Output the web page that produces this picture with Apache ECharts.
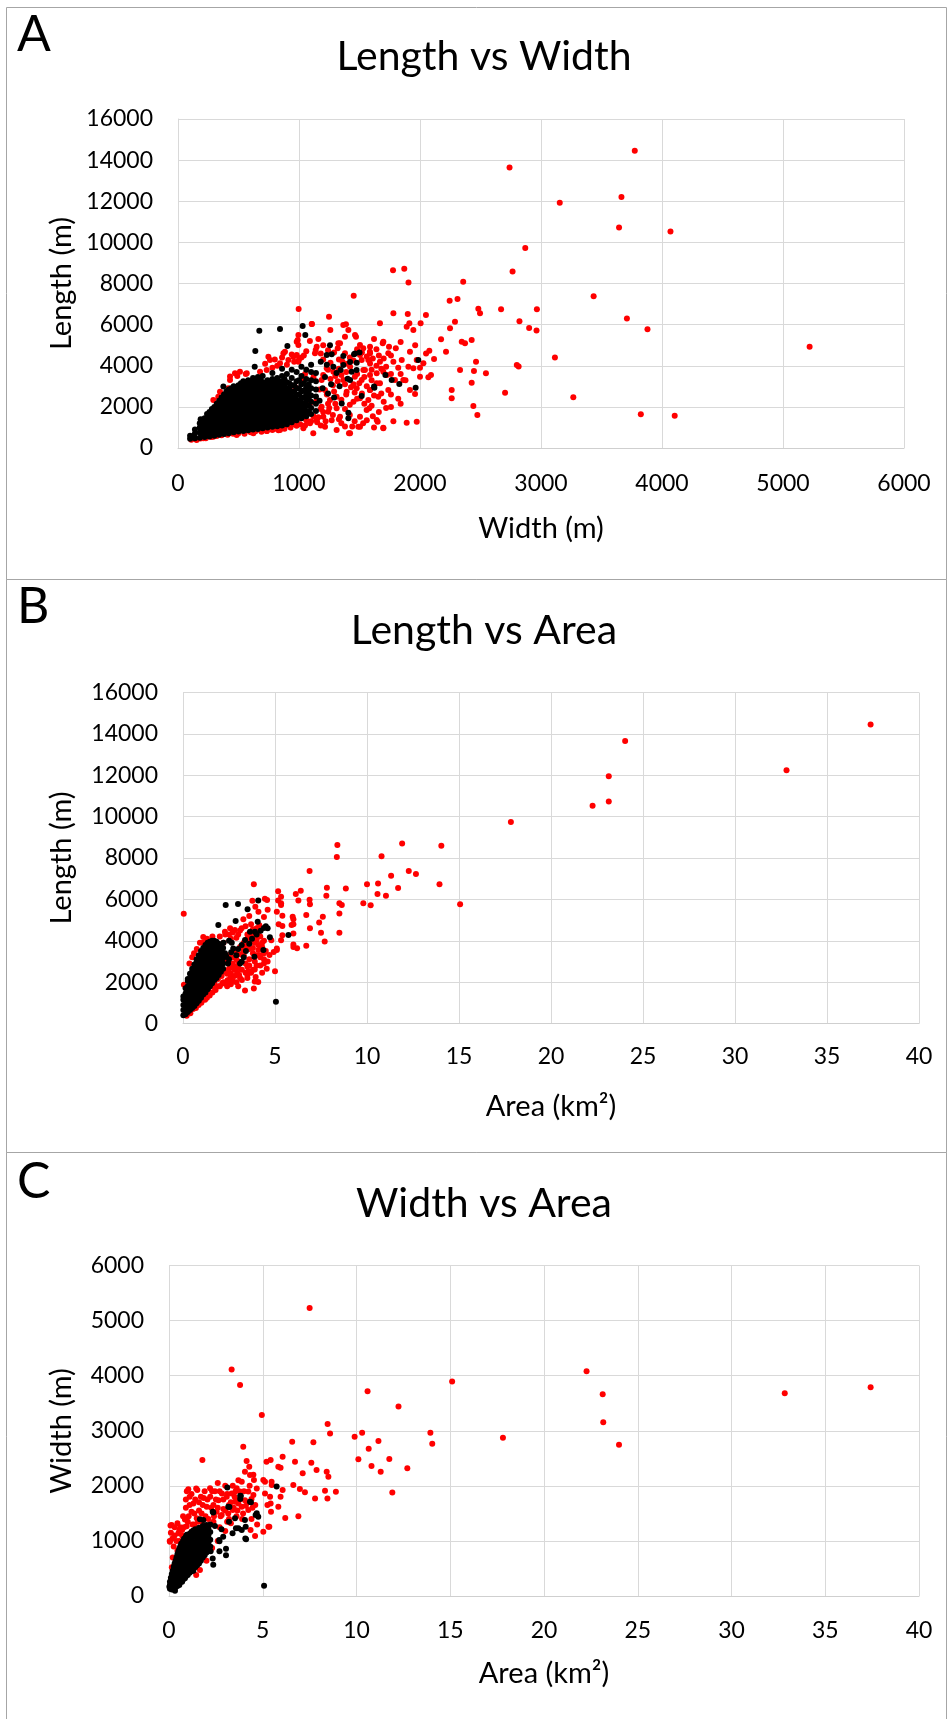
<!DOCTYPE html>
<html>
<head>
<meta charset="utf-8">
<title>Length, Width and Area</title>
<script src="https://cdn.jsdelivr.net/npm/echarts@6/dist/echarts.min.js"></script>
<style>
html, body { margin: 0; padding: 0; background: #fff; }
#main { width: 948px; height: 1719px; }
</style>
</head>
<body>
<div id="main"></div>
<script>
// Valeurs (largeur m, longueur m, aire km2)

// Panneau A : [largeur, longueur]
const lengthWidthRed = [
  [3775,14460],[2740,13640],[3155,11930],[3665,12210],[3645,10720],[4070,10530],[2870,9730],[2765,8580],
  [1777,8650],[1870,8720],[1905,8050],[2357,8080],[3435,7380],[1452,7410],[2245,7160],[2310,7250],
  [5220,4925],[3825,1640],[4105,1565],[3267,2465],[3115,4405],[3710,6300],[3880,5780],[2966,6750],
  [2670,6750],[2822,6160],[2902,5835],[2963,5710],[2815,3965],[2800,4040],[2703,2690],
  [997,6760],[1248,6385],[1107,6030],[1388,6015],[1408,5740],[1259,5740],[981,5170],[995,5495],
  [1138,4765],[1325,5090],[1471,5415],[1380,4605],[1669,6065],[1780,6550],[1899,6515],[1912,6065],
  [1945,5740],[1890,5900],[2005,6065],[2049,6470],[1697,5170],[1744,4930],[1738,4605],[1692,5090],
  [1586,4685],[1531,4845],[1504,4525],[1573,4280],[1545,3795],[1462,3470],[1498,3145],[1586,2820],
  [1655,2495],[1581,1930],[1504,1035],[1413,712],[1118,712],[1201,1525],[1650,1280],[1697,990],
  [1780,4200],[1849,4280],[1904,3955],[1945,3875],[1973,4280],[2028,4120],[2116,4330],[2077,4735],
  [1917,4685],[1793,3305],[1738,2820],[1669,3145],[1862,3305],[2000,3470],[2069,3435],[2091,3550],
  [1917,2820],[1959,2625],[1890,1230],[1973,1280],[2174,5285],[2215,4685],[2248,5820],[2289,6145],
  [2372,5090],[2345,5170],[2427,5255],[2463,4200],[2446,3745],[2331,3795],[2262,2820],[2262,2415],
  [2427,3175],[2441,2040],[2474,1605],[2482,6775],[2496,6550],[2545,3630],
  [110,400],[150,420],[185,460],[230,480],[275,540],[320,580],[360,620],[410,650],[455,690],[500,720],
  [550,690],[600,760],[640,820],[690,790],[735,830],[780,880],[830,860],[880,940],[930,1000],[980,1080],
  [1036,956],[1091,1200],[1146,1362],[1215,1037],[1311,875],[1422,713],[898,1118],[843,875],[733,827],
  [623,713],[485,632],[375,713],[292,551],[209,470],[154,389],[127,551],[264,875],[347,1362],[319,1848],
  [333,2496],[292,2334],[347,2740],[416,2902],[430,3307],[471,3631],[512,3712],[568,3631],[678,3712],
  [733,3793],[760,4279],[843,4117],[912,4279],[953,4441],[884,4685],[747,4441],[871,4604],[989,5252],
  [981,4523],[995,4198],[430,3480],[490,3500],[560,3600],[1036,3388],[1063,2821],[967,2983],[829,3145],
  [1187,3307],[1215,2821],[1256,2334],[1311,2496],[1187,2010],[1242,1767],[1311,1929],[1339,1524],
  [1146,2334],[1091,2172],[1394,2740],[1366,3307],[1284,3712],[1229,3874],[1422,3955],[1532,3793],
  [1642,3631],[1725,3550],[1504,2415],[1559,1848],[1504,1524],[1490,1037],[1642,1362],[1697,956],
  [1573,2334],[1642,3145],[1477,2902],[1587,2820],[1587,3550],[1518,3305],[1697,3710],[1669,4200],
  [1587,4115],[1518,4280],[1587,4605],[1366,5980],[1587,4930],[1504,5010],[1463,5495],[1380,5415],
  [1339,5090],[1132,4605],[1146,4930],[995,5010],[1105,6030],[1200,4300],[1260,4150],[1330,4300],
  [1420,4400],[1300,3500],[1350,3550],[1450,3100],[1390,2600],[1450,2250],[1300,2150],[1250,1950],
  [1380,1900],[1200,1750],[1160,1500],[1270,1350],[1350,1200],[1420,1600],[1100,1300],[1180,1100],
  [1050,1100],[960,1250],[1010,1150],[1230,2600],[1170,2850],[1280,3050],[1120,3450],[1050,3600],
  [1020,4400],[1060,4700],[1090,5200],[1160,5300],[1200,5000],[1180,4600],[1240,4750],[1290,4650],
  [1320,4850],[1360,4200],[1400,4100],[1450,4250],[1480,4800],[1520,4650],[1560,4450],[1610,4350],
  [1640,4800],[1620,5300],[1660,4500],[1700,4350],[1720,3950],[1680,3850],[1640,4000],[1600,3300],
  [1560,3000],[1520,2650],[1480,2400],[1540,2150],[1600,2050],[1620,2550],[1680,2650],[1700,2250],
  [1720,1950],[1660,1750],[1610,1550],[1560,1350],[1530,1200],[1460,1300],[1440,1050],[1380,1050],
  [1330,1400],[1280,1600],[1220,1300],[1180,1900],[1240,2150],[1290,2750],[1350,2350],[1420,2100],
  [1460,2700],[1430,2950],[1380,3100],[1320,3250],[1260,3350],[1200,3550],[1240,3800],[1330,3850],
  [1390,3700],[1480,3600],[1540,3450],[1600,3800],[1760,3600],[1820,3900],[1760,4500],[1800,4850],
  [1840,5150],[1960,5000],[2050,4600],[2000,3900],[1840,3600],[1880,3300],[1760,2600],[1820,2400],
  [1760,2000],[1840,2150],[1620,1000],[1780,1300],[720,4100],[800,4300],[860,4400],[940,4550],
  [960,4200],[1000,4300],[1040,4500],[900,4050],[820,4000],[780,3900],[550,780],[650,870],[720,920],
  [800,940],[860,1000],[950,1150],[1060,1350],[1120,1550],[1150,1250]
];
const lengthWidthBlack = [
  [672,5705],[843,5785],[1030,5935],[1052,5495],[904,4960],[639,4715],[634,3955],[375,2985],[187,1395],
  [1256,4995],[1229,4520],[1366,4475],[1463,4600],[1477,4150],[1435,3710],[1344,3795],[1422,3305],
  [1518,2530],[1353,2170],[1408,1720],[1408,1445],[1284,3955],[1620,2985],[1986,4280],[1964,2930],
  [1714,3550],[1766,3305],[1829,3110],[1623,2935],[1270,4555],[1366,4035],[1402,3370],[1476,3795],
  [1170,2300],[1195,2900],[1215,3450],[1240,2650],[1265,3100],[1290,2450],[1310,3650],[1335,3000],
  [1180,4200],[1230,4050],[1500,4640],[1455,4555],[1422,4185]
];
// coeur dense du nuage noir : [largeur, [longueurs...]]
const lengthWidthBlackCore = [
  [100,[450,600]],
  [140,[470,700,900]],
  [180,[500,750,1000,1200]],
  [200,[620,870,1120,1370]],
  [220,[540,780,1030,1280,1450]],
  [240,[670,920,1170,1420,1650]],
  [260,[560,820,1070,1320,1570,1750]],
  [280,[720,970,1220,1470,1720,1900]],
  [300,[600,850,1100,1350,1600,1850,2000]],
  [320,[730,980,1230,1480,1730,1980,2150]],
  [340,[640,890,1140,1390,1640,1890,2140,2300]],
  [360,[770,1020,1270,1520,1770,2020,2270,2450]],
  [380,[680,930,1180,1430,1680,1930,2180,2430,2600]],
  [400,[810,1060,1310,1560,1810,2060,2310,2560,2750]],
  [420,[720,960,1210,1460,1710,1960,2210,2460,2710,2850]],
  [440,[850,1100,1350,1600,1850,2100,2350,2600,2900]],
  [460,[760,1000,1250,1500,1750,2000,2250,2500,2750,3000]],
  [480,[880,1130,1380,1630,1880,2130,2380,2630,2880]],
  [500,[800,1040,1290,1540,1790,2040,2290,2540,2790,3050]],
  [520,[920,1170,1420,1670,1920,2170,2420,2670,2920,3150]],
  [540,[830,1080,1330,1580,1830,2080,2330,2580,2830,3080,3250]],
  [560,[960,1210,1460,1710,1960,2210,2460,2710,2960,3200]],
  [580,[860,1110,1360,1610,1860,2110,2360,2610,2860,3110,3300]],
  [600,[1000,1250,1500,1750,2000,2250,2500,2750,3000,3250]],
  [620,[900,1150,1400,1650,1900,2150,2400,2650,2900,3150,3400]],
  [640,[1030,1280,1530,1780,2030,2280,2530,2780,3030,3300]],
  [660,[930,1180,1430,1680,1930,2180,2430,2680,2930,3180,3450]],
  [680,[1060,1310,1560,1810,2060,2310,2560,2810,3060,3350]],
  [700,[960,1210,1460,1710,1960,2210,2460,2710,2960,3210,3500]],
  [720,[1100,1350,1600,1850,2100,2350,2600,2850,3100]],
  [740,[1000,1250,1500,1750,2000,2250,2500,2750,3000,3300]],
  [760,[1130,1380,1630,1880,2130,2380,2630,2880,3150]],
  [780,[1030,1280,1530,1780,2030,2280,2530,2780,3030,3350,3650]],
  [800,[1160,1410,1660,1910,2160,2410,2660,2910,3200]],
  [820,[1060,1310,1560,1810,2060,2310,2560,2810,3060,3400]],
  [840,[1200,1450,1700,1950,2200,2450,2700,2950,3250]],
  [860,[1100,1350,1600,1850,2100,2350,2600,2850,3150,3500,3850]],
  [880,[1250,1500,1750,2000,2250,2500,2750,3000,3350]],
  [900,[1150,1400,1650,1900,2150,2400,2650,2900,3200,3600]],
  [920,[1350,1600,1850,2100,2350,2600,2850,3150]],
  [940,[1250,1500,1750,2000,2250,2500,2750,3050,3400,3800]],
  [960,[1450,1700,1950,2200,2450,2750,3050]],
  [980,[1350,1600,1850,2100,2350,2600,2900,3250,3700]],
  [1000,[1550,1800,2050,2300,2600,2900,3300]],
  [1020,[1450,1700,1950,2200,2450,2750,3100,3500,3950]],
  [1040,[1650,1900,2150,2450,2800,3150]],
  [1060,[1550,1800,2050,2300,2600,2950,3350,3800]],
  [1080,[1750,2050,2400,2750,3100]],
  [1100,[1650,1950,2250,2550,2900,3300,3700,4050]],
  [1140,[1800,2150,2500,2850,3250,3650]]
];

// Panneau B : [aire, longueur]
const lengthAreaRed = [
  [37.37,14455],[32.8,12240],[24.03,13650],[23.14,11950],[23.14,10735],[22.26,10520],[17.82,9735],[14.04,8590],
  [11.91,8695],[10.79,8085],[8.39,8625],[8.36,8050],[6.88,7370],[12.27,7370],[12.66,7230],[11.31,7140],
  [13.94,6730],[10.0,6730],[10.6,6765],[11.69,6550],[11.03,6175],[10.57,6260],[15.06,5760],[9.8,5815],
  [10.2,5710],[8.85,6530],[7.82,6565],[7.79,6175],[8.5,5815],[8.63,5725],[8.5,5315],[8.5,4385],[7.7,3960],
  [0.04,5300],[3.85,6730],[5.17,6390],[5.17,5940],[5.33,5725],[6.13,6260],[6.4,6420],[6.27,5940],[6.88,5980],
  [6.9,5760],[5.4,5210],[5.96,5155],[6.7,5245],[7.6,5155],[7.4,4885],[6.9,4600],[6.0,4795],[5.4,4710],
  [5.4,4260],[6.0,4350],[6.0,3815],[6.2,3635],[6.7,3760],[7.5,4385],[4.45,6030],[4.6,5495],[5.2,4795],
  [4.93,3455],[5.0,2530],[4.09,2010],[3.85,1690],[3.37,1600],
  [3.77,5935],[4.57,5970],[3.93,5645],[4.1,5405],[5.1,5405],[5.33,6130],[5.33,5810],[6.0,5035],[5.9,4760],
  [4.8,4030],[5.1,3550],[4.7,3310],[4.2,2805],[3.9,2610],[4.3,2450],[3.9,2030],[5.33,4030],[6.0,3700],
  [5.1,3620],[3.55,2530],[2.28,4440],[2.56,4600],[2.82,4520],[3.19,4600],[3.28,5035],[0.92,3905],[1.1,4185],
  [0.05,1870],[0.35,2900],[0.5,3200],[0.6,3400],[0.75,3600],
  [1.0,2400],[1.2,2800],[1.5,3200],[1.8,3000],[2.1,2600],[2.4,2400],[2.7,2700],[3.0,3000],[3.3,3300],
  [3.6,3600],[3.9,3900],[4.2,4200],[2.2,3900],[2.6,4100],[3.0,4300],[3.4,4700],[3.7,4800],[4.0,4600],
  [4.3,3700],[4.0,3300],[3.6,3100],[3.2,2600],[2.8,2300],[2.5,2100],[2.2,2000],[1.9,1800],[1.6,1500],
  [1.3,1250],[1.0,1000],[0.7,750],[0.4,500],[0.2,380],[0.65,810],[1.05,1130],[1.77,1615],[2.14,1935],
  [2.42,2095],[2.6,2250],[2.95,2450],[3.1,2200],[3.5,2200],[3.7,2450],[4.0,2800],[4.4,3100],[4.5,3500],
  [4.2,3300],[3.8,3400],[3.5,2750],[2.9,2750],[3.3,3700],[4.1,3800],[4.4,4000],[2.4,2550],[1.45,1350],
  [0.85,900],[1.2,1150],[1.7,1750],[2.0,1800],[2.3,1950],[2.7,2050],[3.05,2350],[3.4,2450],[3.95,2250],
  [4.6,3000],[4.55,2650],[2.5,4300],[2.9,4150],[3.5,4300],[3.8,4550],[4.15,4750],[4.4,5150],[3.6,5200],
  [1.3,1600],[1.5,1800],[1.7,2000],[1.9,2150],[2.1,2300],[2.3,2500],[2.5,2650],[2.7,2900],[2.9,3100],
  [3.1,3350],[3.3,3500],[3.5,3750],[3.7,3950],[3.9,4150],[4.1,4400],[1.9,2550],[2.1,2850],[2.3,3050],
  [2.5,3300],[2.7,3200],[2.9,3500],[3.1,3700],[3.3,3900],[3.5,4100],[3.7,4300],[2.0,4200],[2.3,4300],
  [2.7,4400],[3.1,4500],[1.6,4200],[1.3,4100],[1.1,3900],[2.6,2400],[2.8,2600],[3.0,2700],[3.4,2900],
  [3.6,2800],[3.9,3000],[4.2,3200],[4.4,3400],[4.1,3550],[3.8,3650],[4.3,3900],[4.0,4050],[1.0,1200],
  [1.2,1400],[1.4,1550],[0.8,1000],[0.55,700],[2.6,1900],[2.9,2000],[3.2,2100],[3.5,2350],[3.8,2600],
  [4.4,2900],[3.0,1800],[2.4,1800]
];
const lengthAreaBlack = [
  [2.32,5730],[2.99,5775],[4.09,5940],[3.51,5520],[1.92,4760],[2.86,4955],[4.6,4600],[4.72,4170],[5.73,4280],
  [4.37,3550],[3.88,3230],[3.19,2985],[5.05,1050],[1.74,3860],[4.4,4620],[4.06,4920],
  [2.28,3390],[2.73,3630],[3.19,3795],[3.37,4035],[3.64,4440],[3.91,4440],[3.1,2905],[2.5,3100],[2.62,3450],
  [2.9,3300],[3.0,3600],[3.42,3500],[3.6,3850],[3.75,4100],[4.0,4300],[4.22,4480],[4.5,4700],[3.3,3200],
  [2.45,2900],[2.1,3600],[2.35,3250],[2.2,3900],[2.5,4000],[2.65,3900]
];
// coeur dense du nuage noir : [aire, [longueurs...]]
const lengthAreaBlackCore = [
  [0.02,[400,650,900,1150,1300]],
  [0.14,[450,700,950,1200,1450,1700]],
  [0.26,[550,800,1050,1300,1550,1800,2050,2150]],
  [0.38,[650,900,1150,1400,1650,1900,2150,2400]],
  [0.5,[750,1000,1250,1500,1750,2000,2250,2500,2650]],
  [0.62,[850,1100,1350,1600,1850,2100,2350,2600,2850]],
  [0.74,[980,1230,1480,1730,1980,2230,2480,2730,2980,3100]],
  [0.86,[1100,1350,1600,1850,2100,2350,2600,2850,3100,3300]],
  [0.98,[1250,1500,1750,2000,2250,2500,2750,3000,3250,3500]],
  [1.1,[1400,1650,1900,2150,2400,2650,2900,3150,3400,3650]],
  [1.22,[1500,1750,2000,2250,2500,2750,3000,3250,3500,3800]],
  [1.34,[1650,1900,2150,2400,2650,2900,3150,3400,3650,3900]],
  [1.46,[1800,2050,2300,2550,2800,3050,3300,3550,3800,3950]],
  [1.58,[1950,2200,2450,2700,2950,3200,3450,3700,4000]],
  [1.7,[2100,2350,2600,2850,3100,3350,3600,3850,4000]],
  [1.82,[2200,2450,2700,2950,3200,3450,3700,3950]],
  [1.94,[2350,2600,2850,3100,3350,3600,3850]],
  [2.06,[2500,2750,3000,3250,3500,3750]],
  [2.18,[2650,2900,3150,3400,3650]]
];

// Panneau C : [aire, largeur]
const widthAreaRed = [
  [7.5,5230],[3.34,4110],[3.79,3830],[4.95,3285],[10.59,3715],[12.24,3440],[15.1,3893],[22.27,4078],
  [23.13,3663],[23.16,3156],[24.0,2748],[32.84,3683],[37.42,3788],[17.81,2873],[13.94,2965],[14.04,2765],
  [8.46,3122],[8.59,2951],[9.9,2890],[10.3,2963],[10.1,2484],[10.65,2674],[10.8,2359],[11.17,2813],
  [11.29,2256],[11.75,2486],[11.91,1879],[12.71,2317],[6.57,2800],[7.7,2789],[3.96,2710],[4.14,2450],
  [5.2,2438],[5.42,2468],[5.83,2347],[6.06,2530],[6.72,2438],[5.95,2329],[5.48,2015],[5.12,2076],
  [6.63,2015],[7.13,2227],[7.25,1882],[6.98,1942],[7.79,1772],[8.32,1912],[8.45,1772],[8.5,2166],
  [8.41,2257],[8.9,1893],[7.87,2287],[7.59,2420],[5.95,1802],[5.42,1681],[6.2,1416],[6.9,1446],
  [5.35,1257],[4.59,1089],[5.83,1620],[6.06,1923],[1.78,2468],[0.08,1280],[0.04,1000],
  [4.05,2255],[4.28,2347],[3.88,2075],[4.32,2196],[4.53,2105],[4.68,1953],[5.03,2105],[5.47,2075],
  [5.12,1860],[5.39,1800],[5.25,1650],[5.44,1530],[5.3,1258],[5.03,1166],
  [1.03,1936],[1.51,1924],[2.19,1955],[1.3,1681],[1.2,1531],[0.85,1391],[0.14,1289],[0.05,984],[0.5,1138],
  [0.94,1264],[1.21,1170],[1.74,1500],[2.01,1620],[2.37,1650],[2.64,1740],[2.82,1860],[3.08,1800],
  [3.34,1860],[3.61,1955],[3.79,1895],[4.23,1895],[4.5,1833],[4.05,1740],[4.6,1650],[4.23,1560],[3.88,1620],
  [3.52,1710],[3.16,1500],[2.81,1470],[2.54,1530],[2.37,1350],[2.01,1260],[1.48,1410],[1.92,1138],
  [1.65,1017],[1.3,863],[1.03,711],[0.77,532],[0.59,411],[0.32,260],[1.65,470],[2.0,640],[1.45,380],
  [2.3,870],[2.6,1000],[3.0,1180],[3.3,1320],[3.6,1450],[3.95,1500],[4.4,1400],[4.7,1300],[4.35,1200],
  [3.1,1350],[2.9,1580],[3.4,1560],[3.7,1680],[4.1,1640],[4.4,1760],[3.5,1800],[3.2,1650],[2.7,1250],
  [0.2,700],[0.25,900],[0.3,1100],[0.45,820],[0.55,1000],[0.7,1200],[0.75,1450],[0.9,1600],[0.6,1250],
  [0.15,520],[1.0,1350],[1.35,1300],[1.6,1700],[1.85,1780],[2.2,1800],[2.45,1900],[1.1,1800],
  [0.1,1150],[0.2,1050],[0.3,1250],[0.4,1000],[0.45,1320],[0.55,1200],[0.7,1100],[0.8,1250],
  [0.9,1750],[0.95,1900],[1.05,1450],[1.1,1650],[1.2,1850],[1.25,1300],[1.35,1500],[1.4,1750],
  [1.45,1950],[1.55,1350],[1.6,1550],[1.7,1800],[1.75,1350],[1.8,1650],[1.9,1900],[1.95,1450],
  [2.05,1750],[2.1,1400],[2.25,1600],[2.3,1900],[2.4,1450],[2.5,1750],[2.6,1600],[2.7,1900],
  [2.75,1450],[2.9,1750],[3.0,1550],[3.1,1850],[3.2,1400],[3.3,1700],[3.45,1600],[3.55,1900],
  [3.65,1550],[3.75,1750],[3.9,1400],[4.0,1900],[4.2,1700],[4.3,2000],[4.45,1600],[4.5,2200],
  [3.4,2000],[3.7,2100],[3.0,2000],[2.6,2050]
];
const widthAreaBlack = [
  [3.11,1970],[5.74,1990],[5.07,187],[0.32,97],[0.02,169],[2.36,1518],[3.22,1618],[3.8,1821],[3.8,1760],
  [4.37,1700],[4.62,1470],[4.76,1440],[4.09,1258],[4.07,1046],[3.52,1410],[3.57,1228],[3.04,738],[2.36,569],
  [2.33,680],[2.69,811],[2.69,992],[1.92,901],[1.65,1392],[2.45,1270],[2.8,1210],[3.83,1815],[4.32,1713],
  [4.68,1501],[2.33,1531],[1.83,1380],[3.16,1621],[3.2,1349],[4.05,1380],[3.7,1228],[3.88,1198],[3.39,1138],
  [4.11,1029],[3.04,860],[2.22,813],[2.68,1017],[2.89,1077],[1.05,1000],[1.25,1100],[1.55,1120],[0.65,950],[1.15,1060]
];
// coeur dense du nuage noir : [aire, [largeurs...]]
const widthAreaBlackCore = [
  [0.05,[130,200,260]],
  [0.1,[150,240,330]],
  [0.15,[120,210,300,400]],
  [0.2,[170,260,360,460]],
  [0.25,[140,230,330,430,530]],
  [0.3,[190,290,390,500,590]],
  [0.35,[160,250,350,450,560,640]],
  [0.4,[210,310,410,520,620,700]],
  [0.45,[180,280,380,480,590,680,760]],
  [0.5,[230,330,440,550,650,740,810]],
  [0.55,[200,300,400,510,610,720,860]],
  [0.6,[250,350,460,570,680,780,900]],
  [0.65,[280,390,500,620,730,840]],
  [0.7,[260,330,430,540,660,770,950]],
  [0.75,[300,410,480,590,700,820,1000]],
  [0.8,[340,450,560,640,750,880,1040]],
  [0.85,[320,390,500,610,720,830,950]],
  [0.9,[360,440,540,660,780,900,1080]],
  [0.95,[400,480,590,700,820,990,1110]],
  [1.0,[380,460,530,640,750,870,1050]],
  [1.1,[420,510,600,710,830,950,1130]],
  [1.2,[450,550,660,760,880,1000,1160]],
  [1.3,[460,580,700,810,930,1070,1190]],
  [1.4,[520,630,740,860,980,1120,1210]],
  [1.5,[560,670,790,910,1040,1180]],
  [1.6,[590,710,830,960,1100,1240]],
  [1.7,[640,760,880,1010,1150]],
  [1.8,[700,820,940,1070,1200,1270]],
  [1.9,[740,860,990,1120,1250]],
  [2.0,[790,910,1040,1170,1290]],
  [2.1,[850,970,1100,1230]],
  [2.2,[900,1020,1160,1300]]
];

// Graduations des axes
const widthTicks = { max: 6000, step: 1000 };
const lengthTicks = { max: 16000, step: 2000 };
const areaTicks = { max: 40, step: 5 };

const FONT = 'Lato';
const gridColor = '#d9d9d9';

// transforme [x, [y1, y2...]] en paires [x, y]
function expand(cols) {
  var out = [];
  for (var i = 0; i < cols.length; i++) {
    for (var j = 0; j < cols[i][1].length; j++) {
      out.push([cols[i][0], cols[i][1][j]]);
    }
  }
  return out;
}

function plain(v) { return String(v); }

function xAxe(gi, ticks, name, margin, nameGap) {
  return {
    type: 'value', gridIndex: gi, min: 0, max: ticks.max, interval: ticks.step,
    name: name, nameLocation: 'middle', nameGap: nameGap,
    nameTextStyle: { fontFamily: FONT, fontSize: 29, color: '#000' },
    axisLine: { show: true, lineStyle: { color: '#cfcfcf', width: 1 } },
    axisTick: { show: false },
    axisLabel: { fontFamily: FONT, fontSize: 23, color: '#000', margin: margin, formatter: plain },
    splitLine: { show: true, lineStyle: { color: gridColor, width: 1 } }
  };
}

function yAxe(gi, ticks) {
  return {
    type: 'value', gridIndex: gi, min: 0, max: ticks.max, interval: ticks.step,
    axisLine: { show: true, lineStyle: { color: gridColor, width: 1 } },
    axisTick: { show: false },
    axisLabel: { fontFamily: FONT, fontSize: 23, color: '#000', margin: 25, formatter: plain },
    splitLine: { show: true, lineStyle: { color: gridColor, width: 1 } }
  };
}

function dots(data, color, idx) {
  return {
    type: 'scatter', xAxisIndex: idx, yAxisIndex: idx, data: data,
    symbol: 'circle', symbolSize: 6, silent: true,
    itemStyle: { color: color, opacity: 1 }
  };
}

function titre(text, y) {
  return {
    text: text, left: 484, top: y, padding: 0,
    textAlign: 'center', textVerticalAlign: 'middle',
    textStyle: { fontFamily: FONT, fontSize: 41, fontWeight: 'normal', color: '#000' }
  };
}

function lettre(text, y) {
  return {
    type: 'text', silent: true,
    style: { x: 17, y: y, text: text, fontFamily: FONT, fontSize: 50, fill: '#000', verticalAlign: 'middle' }
  };
}

// titre vertical de l'axe y
function nomY(text, y) {
  return {
    type: 'text', silent: true, x: 62, y: y, rotation: Math.PI / 2,
    style: {
      x: 0, y: 0, text: text, fontFamily: FONT, fontSize: 29,
      fill: '#000', align: 'center', verticalAlign: 'middle'
    }
  };
}

function cadre(y, h) {
  return {
    type: 'rect', silent: true,
    shape: { x: 6.5, y: y, width: 940, height: h },
    style: { fill: 'none', stroke: '#a6a6a6', lineWidth: 1 }
  };
}

var myChart = echarts.init(document.getElementById('main'));

var option = {
  animation: false,
  backgroundColor: '#fff',
  title: [
    titre('Length vs Width', 57),
    titre('Length vs Area', 630.5),
    titre('Width vs Area', 1204)
  ],
  grid: [
    { left: 178, top: 119, width: 726, height: 329, outerBoundsMode: 'none' },
    { left: 183, top: 692.5, width: 736, height: 331, outerBoundsMode: 'none' },
    { left: 169, top: 1265.5, width: 750, height: 330.5, outerBoundsMode: 'none' }
  ],
  xAxis: [
    xAxe(0, widthTicks, 'Width (m)', 24, 66),
    xAxe(1, areaTicks, 'Area (km²)', 22, 69),
    xAxe(2, areaTicks, 'Area (km²)', 23, 63)
  ],
  yAxis: [
    yAxe(0, lengthTicks),
    yAxe(1, lengthTicks),
    yAxe(2, widthTicks)
  ],
  series: [
    dots(lengthWidthRed, '#ff0000', 0),
    dots(lengthWidthBlack.concat(expand(lengthWidthBlackCore)), '#000000', 0),
    dots(lengthAreaRed, '#ff0000', 1),
    dots(lengthAreaBlack.concat(expand(lengthAreaBlackCore)), '#000000', 1),
    dots(widthAreaRed, '#ff0000', 2),
    dots(widthAreaBlack.concat(expand(widthAreaBlackCore)), '#000000', 2)
  ],
  graphic: [
    cadre(7.5, 572),
    cadre(579.5, 573),
    cadre(1152.5, 580),
    lettre('A', 35),
    lettre('B', 607),
    lettre('C', 1182),
    nomY('Length (m)', 283.5),
    nomY('Length (m)', 858),
    nomY('Width (m)', 1431)
  ]
};

myChart.setOption(option);
</script>
</body>
</html>
